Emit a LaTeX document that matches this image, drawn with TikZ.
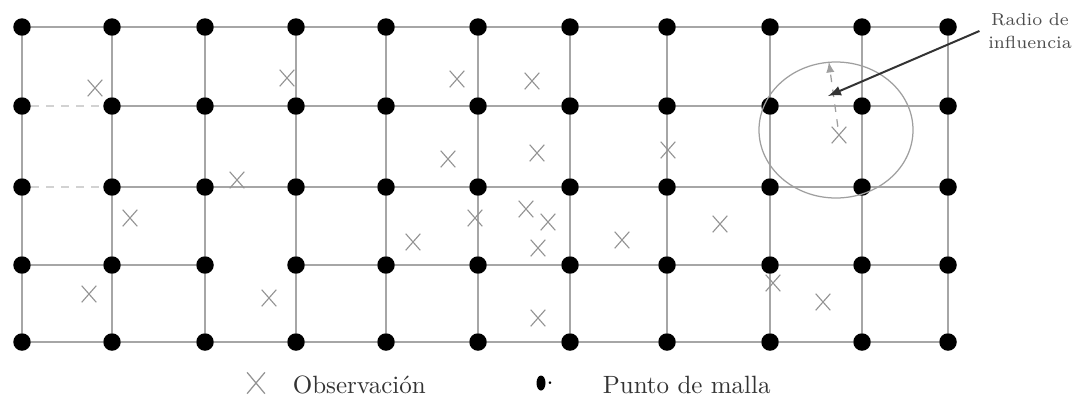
\documentclass[tikz,border=0pt]{standalone}
\usepackage{tikz}
\usetikzlibrary{shapes,arrows,positioning,calc}

\begin{document}
\begin{tikzpicture}[
    x=0.4pt, y=-0.4pt,
    pt/.style={circle, fill=black, inner sep=0pt, minimum size=7pt},
    obs/.style={cross out, draw=gray!85, line width=0.45pt, inner sep=0pt, minimum width=5.4pt, minimum height=6.2pt},
    gridline/.style={draw=gray!70, line width=0.6pt},
    faint/.style={draw=gray!35, line width=0.5pt, dashed},
    arrow/.style={-latex, line width=0.8pt, black!80},
    legend/.style={anchor=west, font=\normalsize, text=black!80}
]
    \useasboundingbox (0,0) rectangle (1086,408);

    % Grid points
    \foreach \c/\x in {0/22,1/112,2/205,3/296,4/386,5/478,6/570,7/667,8/770,9/862,10/948}
        \foreach \r/\y in {0/27,1/106,2/187,3/265,4/342}
            \node[pt] (p\c-\r) at (\x,\y) {};

    % Grid lines (horizontal, a few gaps)
    \foreach \c in {0,...,9}
        \foreach \r in {0,...,4} {
            \pgfmathtruncatemacro{\nc}{\c+1}
            \pgfmathtruncatemacro{\gapflag}{(\c==0 && (\r==1 || \r==2)) || (\c==2 && \r==3) ? 1 : 0}
            \ifnum\gapflag=0 \draw[gridline] (p\c-\r) -- (p\nc-\r); \fi
        }
    % vertical
    \foreach \c in {0,...,10}
        \foreach \r in {0,...,3} {
            \pgfmathtruncatemacro{\nr}{\r+1}
            \draw[gridline] (p\c-\r) -- (p\c-\nr);
        }
    \draw[faint] (p0-1) -- (p1-1);
    \draw[faint] (p0-2) -- (p1-2);

    % Observations
    \foreach \i/\x/\y in {1/95/88, 2/287/78, 3/457/79, 4/532/81, 5/448/159, 6/537/153,
        7/668/150, 8/839/135, 9/237/180, 10/130/218, 11/475/218, 12/526/209,
        13/548/222, 14/413/242, 15/538/248, 16/622/240, 17/720/224, 18/89/294,
        19/269/298, 20/538/318, 21/773/283, 22/823/302}
        \node[obs] (o\i) at (\x,\y) {};

    % Influence radius
    \node[ellipse, draw=gray!75, line width=0.5pt, inner sep=0pt,
          minimum width=61.6pt, minimum height=54.4pt] (zona) at (836,130) {};
    \draw[-latex, gray!75, dashed, line width=0.5pt] (o8) -- (zona.96);

    \node[font=\scriptsize, align=center, text=black!70] (radio) at (1030,31) {Radio de\\[1pt]influencia};
    \draw[arrow] (radio.west) -- (828,96);

    % Legend
    \node[obs, minimum width=6.6pt, minimum height=8pt, line width=0.5pt] (lobs) at (256,383) {};
    \node[legend] (lobstxt) at (284,385) {Observación};
    \node[ellipse, fill=black, inner sep=0pt, minimum width=3.6pt, minimum height=6pt] (lpt) at (541,383) {};
    \node[font=\normalsize, inner sep=0pt, anchor=west] (ldot) at (lpt.east) {.};
    \node[legend] (lpttxt) at (594,385) {Punto de malla};
\end{tikzpicture}
\end{document}
